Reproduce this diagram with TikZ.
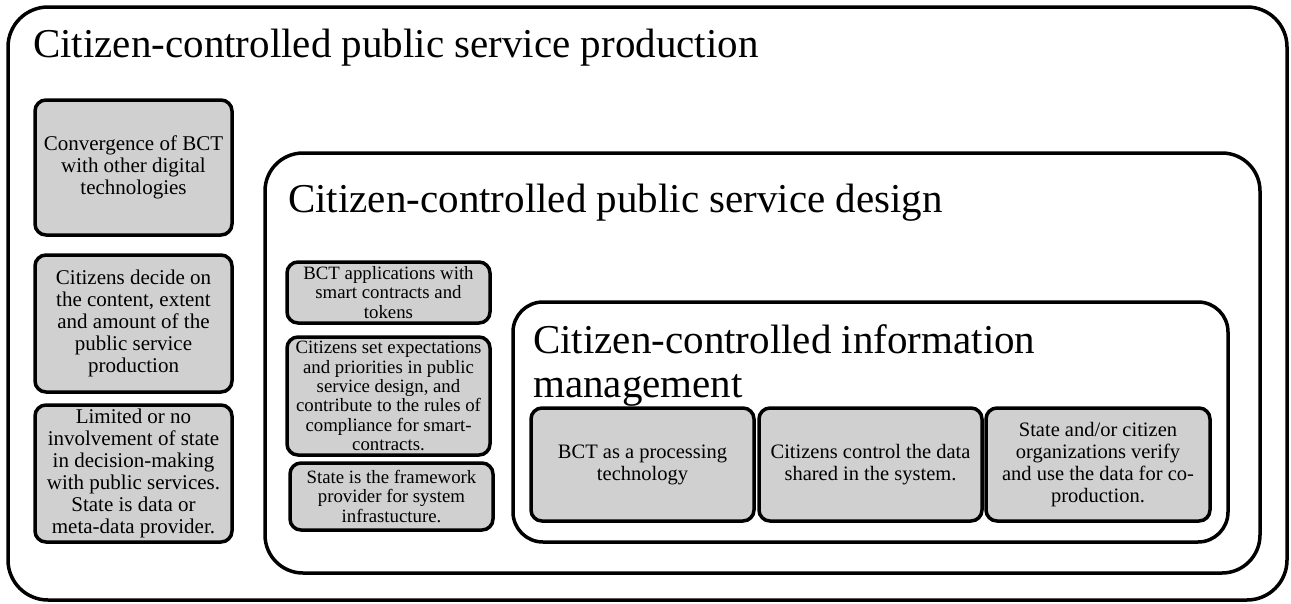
\documentclass[tikz,border=0pt]{standalone}
\usepackage{fontspec}
\setmainfont{Liberation Serif}
\definecolor{boxgray}{RGB}{208,208,208}
\begin{document}
\begin{tikzpicture}[x=1pt,y=-1pt,
  frame/.style={draw=black, line width=3.5pt, rounded corners=#1, inner sep=0pt},
  cell/.style={draw=black, fill=boxgray, line width=3.5pt, rounded corners=11pt,
               align=center, inner sep=0pt},
  heading/.style={anchor=base west, inner sep=0pt, align=left,
                  font=\fontsize{41}{44}\selectfont},
  bigtxt/.style={font=\fontsize{21}{22}\selectfont},
  midtxt/.style={font=\fontsize{18.8}{19.3}\selectfont},
  lowtxt/.style={font=\fontsize{20.5}{22}\selectfont}]
\useasboundingbox (0,0) rectangle (1291,603);

% nested frames
\node[frame=40pt, minimum width=1279pt, minimum height=593pt] (prod) at (647.5,303.5) {};
\node[frame=38pt, minimum width=995pt, minimum height=420pt] (design) at (762.5,363) {};
\node[frame=30pt, minimum width=715pt, minimum height=240pt] (info) at (870.5,422) {};

% frame headings (a two-line node sits on the baseline of its last line)
\node[heading] (prodT) at (33,57) {Citizen-controlled public service production};
\node[heading] (designT) at (288,212) {Citizen-controlled public service design};
\node[heading] (infoT) at (533,397) {Citizen-controlled information\\management};

% production level
\node[cell, bigtxt, minimum width=197pt, minimum height=135pt] (p1) at (133.5,167.5)
  {Convergence of BCT\\with other digital\\technologies};
\node[cell, bigtxt, minimum width=197pt, minimum height=137pt] (p2) at (133.5,323.5)
  {Citizens decide on\\the content, extent\\and amount of the\\public service\\production};
\node[cell, bigtxt, minimum width=197pt, minimum height=137pt] (p3) at (133.5,473.5)
  {Limited or no\\involvement of state\\in decision-making\\with public services.\\State is data or\\meta-data provider.};

% design level
\node[cell, midtxt, minimum width=203pt, minimum height=61pt] (d1) at (388.5,292.5)
  {BCT applications with\\smart contracts and\\tokens};
\node[cell, midtxt, minimum width=203pt, minimum height=118pt] (d2) at (388.5,396)
  {Citizens set expectations\\and priorities in public\\service design, and\\contribute to the rules of\\compliance for smart-\\contracts.};
\node[cell, midtxt, minimum width=203pt, minimum height=67pt] (d3) at (391.5,496.5)
  {State is the framework\\provider for system\\infrastucture.};

% information management level
\node[cell, lowtxt, minimum width=223pt, minimum height=113pt] (i1) at (642.5,464.5)
  {BCT as a processing\\technology};
\node[cell, lowtxt, minimum width=223pt, minimum height=113pt] (i2) at (870.5,464.5)
  {Citizens control the data\\shared in the system.};
\node[cell, lowtxt, minimum width=224pt, minimum height=113pt] (i3) at (1098,464.5)
  {State and/or citizen\\organizations verify\\and use the data for co-\\production.};
\end{tikzpicture}
\end{document}
